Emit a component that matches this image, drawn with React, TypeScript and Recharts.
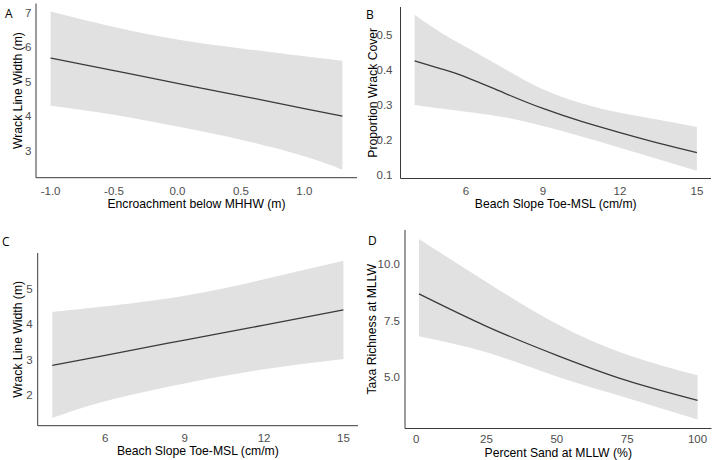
import { Area, ComposedChart, Line, XAxis, YAxis } from "recharts"

// A: wrack line width against encroachment below MHHW
const encroachment = [-1.0, -0.5, 0.0, 0.5, 1.0, 1.3]
const widthFitA = [5.68, 5.32, 4.95, 4.59, 4.22, 4.0]
const widthLowA = [4.3, 4.04, 3.7, 3.32, 2.84, 2.45]
const widthHighA = [7.03, 6.58, 6.22, 5.96, 5.73, 5.6]
const encroachmentTicks = [-1.0, -0.5, 0.0, 0.5, 1.0]
const widthTicksA = [3, 4, 5, 6, 7]

// B: proportion wrack cover against beach slope
const slopeB = [4, 5, 6, 7.5, 9, 10.5, 12, 13.5, 15]
const coverFit = [0.426, 0.404, 0.38, 0.334, 0.29, 0.253, 0.221, 0.191, 0.164]
const coverLow = [0.3, 0.29, 0.281, 0.265, 0.24, 0.21, 0.178, 0.145, 0.112]
const coverHigh = [0.558, 0.508, 0.466, 0.404, 0.345, 0.305, 0.278, 0.258, 0.237]
const slopeTicks = [6, 9, 12, 15]
const coverTicks = [0.1, 0.2, 0.3, 0.4, 0.5]

// C: wrack line width against beach slope
const slopeC = [4, 6, 9, 12, 15]
const widthFitC = [2.84, 3.12, 3.55, 3.97, 4.4]
const widthLowC = [1.36, 1.83, 2.33, 2.73, 3.02]
const widthHighC = [4.34, 4.5, 4.8, 5.26, 5.78]
const widthTicksC = [2, 3, 4, 5]

// D: taxa richness against percent sand
const sand = [1, 25, 50, 75, 100]
const richnessFit = [8.68, 7.25, 5.97, 4.85, 3.98]
const richnessLow = [6.81, 6.1, 5.04, 4.09, 3.14]
const richnessHigh = [11.1, 9.2, 7.35, 6.0, 5.09]
const sandTicks = [0, 25, 50, 75, 100]
const richnessTicks = [5.0, 7.5, 10.0]

const FONT = "'Liberation Sans', Arial, sans-serif"
const BAND = "#e1e1e1"
const INK = "#3a3a3a"

// ggplot-style 5% expansion around the data
const expand = (values: number[]): [number, number] => {
  const min = Math.min(...values)
  const max = Math.max(...values)
  const pad = (max - min) * 0.05
  return [min - pad, max + pad]
}

const rows = (x: number[], fit: number[], lo: number[], hi: number[]) =>
  x.map((v, i) => ({ x: v, fit: fit[i], lo: lo[i], hi: hi[i] }))

interface PanelProps {
  letter: string
  data: { x: number; fit: number; lo: number; hi: number }[]
  xTicks: number[]
  yTicks: number[]
  xDigits: number
  yDigits: number
  xTitle: string
  yTitle: string
  left: number
  top: number
  width: number
  height: number
  margin: { top: number; right: number; bottom: number; left: number }
  yAxisWidth: number
  xAxisHeight: number
  xTickGap: number
  yTickGap: number
  xTitleBaseline: number
  yTitleX: number
  letterPos: { x: number; y: number }
}

function Panel(p: PanelProps) {
  const xDomain = expand(p.data.map((d) => d.x))
  const yDomain = expand(p.data.flatMap((d) => [d.lo, d.hi]))
  const plotLeft = p.margin.left + p.yAxisWidth
  const plotRight = p.width - p.margin.right
  const plotTop = p.margin.top
  const plotBottom = p.height - p.margin.bottom - p.xAxisHeight
  const cx = (plotLeft + plotRight) / 2
  const cy = (plotTop + plotBottom) / 2

  const tickStyle = { fill: "#4d4d4d", fontSize: 11.5, fontFamily: FONT }

  return (
    <div style={{ position: "absolute", left: p.left, top: p.top }}>
      <ComposedChart width={p.width} height={p.height} data={p.data} margin={p.margin}>
        <XAxis
          dataKey="x"
          type="number"
          domain={xDomain}
          ticks={p.xTicks}
          allowDataOverflow
          height={p.xAxisHeight}
          tickLine={false}
          tickSize={p.xTickGap}
          tickMargin={0}
          axisLine={{ stroke: INK, strokeWidth: 1 }}
          tick={tickStyle}
          tickFormatter={(v: number) => v.toFixed(p.xDigits)}
          label={{
            content: () => (
              <text x={cx} y={p.xTitleBaseline} textAnchor="middle" fontSize={12.2} fontFamily={FONT} fill="#000">
                {p.xTitle}
              </text>
            ),
          }}
        />
        <YAxis
          type="number"
          domain={yDomain}
          ticks={p.yTicks}
          allowDataOverflow
          width={p.yAxisWidth}
          tickLine={false}
          tickSize={p.yTickGap}
          tickMargin={0}
          axisLine={{ stroke: INK, strokeWidth: 1 }}
          tick={tickStyle}
          tickFormatter={(v: number) => v.toFixed(p.yDigits)}
          label={{
            content: () => (
              <text
                x={p.yTitleX}
                y={cy}
                transform={`rotate(-90, ${p.yTitleX}, ${cy})`}
                textAnchor="middle"
                dominantBaseline="central"
                fontSize={12.2}
                fontFamily={FONT}
                fill="#000"
              >
                {p.yTitle}
              </text>
            ),
          }}
        />
        <Area
          dataKey={(d: { lo: number; hi: number }) => [d.lo, d.hi]}
          type="natural"
          stroke="none"
          fill={BAND}
          fillOpacity={1}
          dot={false}
          activeDot={false}
          isAnimationActive={false}
        />
        <Line
          dataKey="fit"
          type="natural"
          stroke={INK}
          strokeWidth={1.3}
          dot={false}
          activeDot={false}
          isAnimationActive={false}
        />
      </ComposedChart>
      <span
        style={{
          position: "absolute",
          left: p.letterPos.x,
          top: p.letterPos.y,
          fontFamily: "'Open Sans', sans-serif",
          fontSize: 12,
          lineHeight: "12px",
          color: "#000",
        }}
      >
        {p.letter}
      </span>
    </div>
  )
}

export default function App() {
  return (
    <div style={{ position: "absolute", left: 0, top: 0, width: 715, height: 460, background: "#fff", overflow: "hidden" }}>
      <Panel
        letter="A"
        data={rows(encroachment, widthFitA, widthLowA, widthHighA)}
        xTicks={encroachmentTicks}
        yTicks={widthTicksA}
        xDigits={1}
        yDigits={0}
        xTitle="Encroachment below MHHW (m)"
        yTitle="Wrack Line Width (m)"
        left={0}
        top={0}
        width={360}
        height={215}
        margin={{ top: 3.5, right: 3, bottom: 0, left: 0 }}
        yAxisWidth={36}
        xAxisHeight={37.3}
        xTickGap={9}
        yTickGap={4.5}
        xTitleBaseline={207.5}
        yTitleX={18}
        letterPos={{ x: 5, y: 8 }}
      />
      <Panel
        letter="B"
        data={rows(slopeB, coverFit, coverLow, coverHigh)}
        xTicks={slopeTicks}
        yTicks={coverTicks}
        xDigits={0}
        yDigits={1}
        xTitle="Beach Slope Toe-MSL (cm/m)"
        yTitle="Proportion Wrack Cover"
        left={360}
        top={0}
        width={355}
        height={215}
        margin={{ top: 7, right: 4, bottom: 0, left: 0 }}
        yAxisWidth={40.5}
        xAxisHeight={36.5}
        xTickGap={8}
        yTickGap={8}
        xTitleBaseline={207.5}
        yTitleX={12.5}
        letterPos={{ x: 6, y: 9 }}
      />
      <Panel
        letter="C"
        data={rows(slopeC, widthFitC, widthLowC, widthHighC)}
        xTicks={slopeTicks}
        yTicks={widthTicksC}
        xDigits={0}
        yDigits={0}
        xTitle="Beach Slope Toe-MSL (cm/m)"
        yTitle="Wrack Line Width (m)"
        left={0}
        top={230}
        width={362}
        height={230}
        margin={{ top: 23, right: 4, bottom: 0, left: 0 }}
        yAxisWidth={37.7}
        xAxisHeight={34.3}
        xTickGap={8}
        yTickGap={5}
        xTitleBaseline={225}
        yTitleX={18}
        letterPos={{ x: 2, y: 6 }}
      />
      <Panel
        letter="D"
        data={rows(sand, richnessFit, richnessLow, richnessHigh)}
        xTicks={sandTicks}
        yTicks={richnessTicks}
        xDigits={0}
        yDigits={1}
        xTitle="Percent Sand at MLLW (%)"
        yTitle="Taxa Richness at MLLW"
        left={360}
        top={230}
        width={355}
        height={230}
        margin={{ top: 0, right: 3.5, bottom: 0, left: 0 }}
        yAxisWidth={45}
        xAxisHeight={31.5}
        xTickGap={6}
        yTickGap={5}
        xTitleBaseline={227}
        yTitleX={11.5}
        letterPos={{ x: 8, y: 5 }}
      />
    </div>
  )
}
